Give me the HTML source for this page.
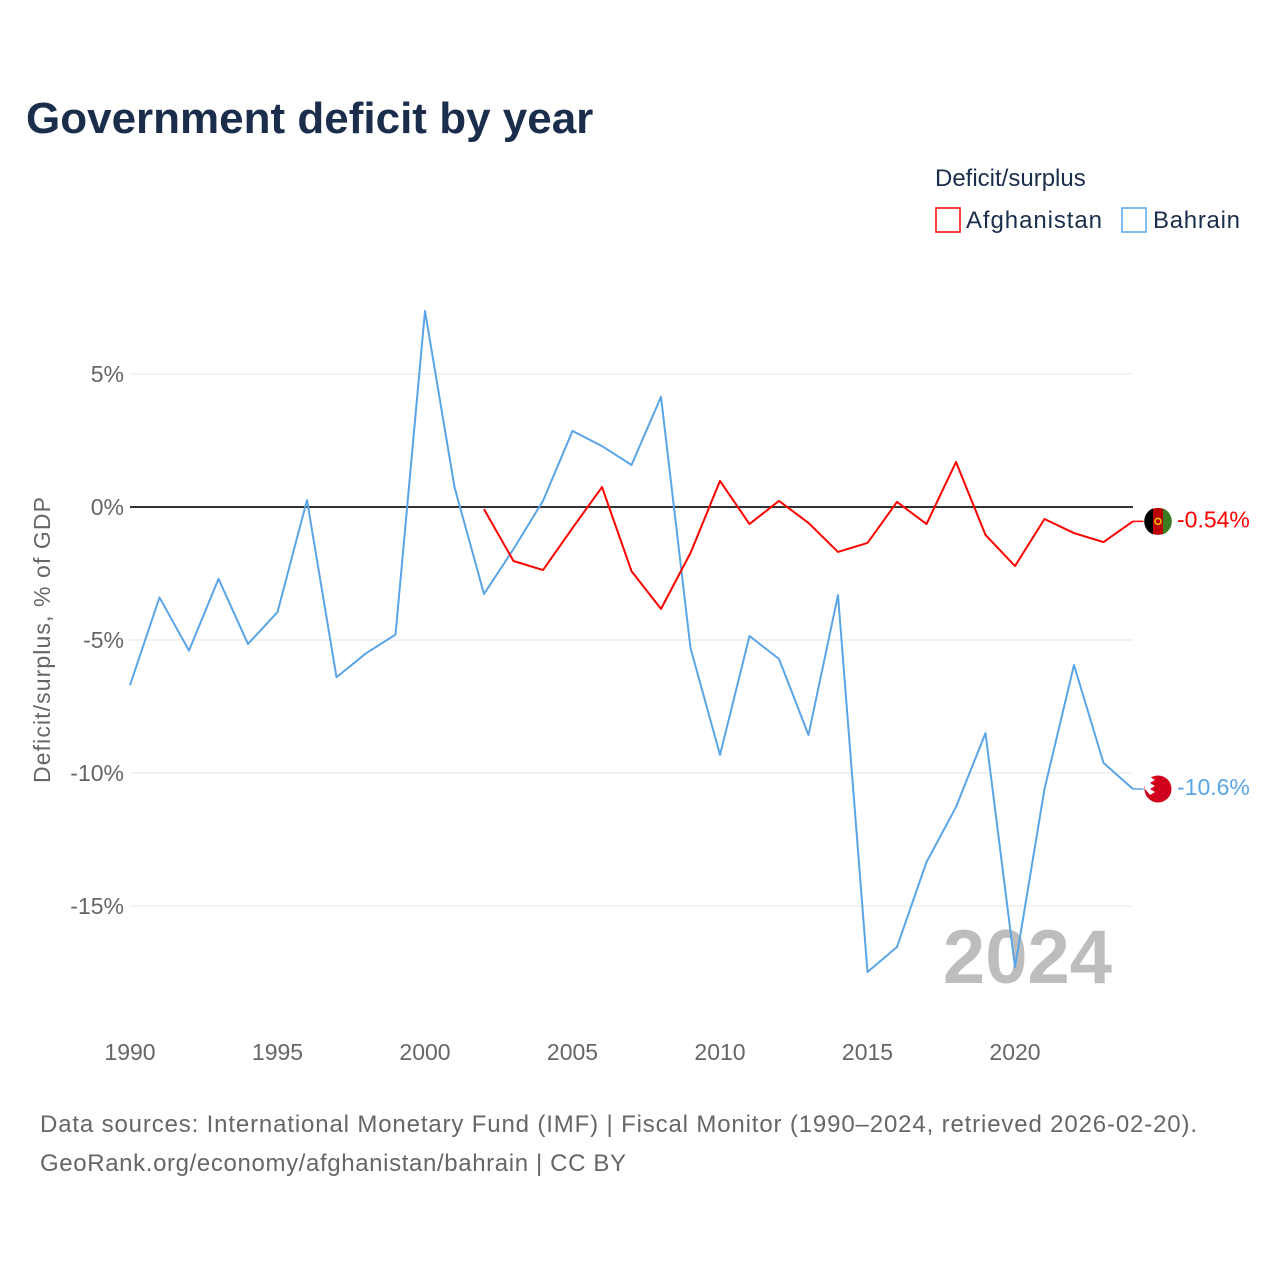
<!DOCTYPE html>
<html><head><meta charset="utf-8"><style>
body{margin:0;background:#fff;font-family:"Liberation Sans",sans-serif;}
svg text{font-family:"Liberation Sans",sans-serif;}
</style></head><body>
<svg width="1280" height="1280" viewBox="0 0 1280 1280" xmlns="http://www.w3.org/2000/svg">
<text x="26" y="133" font-size="44" font-weight="bold" fill="#1a2e4c">Government deficit by year</text>
<text x="935" y="186" font-size="24" fill="#1a2e4c">Deficit/surplus</text>
<g><rect x="936" y="208" width="24" height="24" fill="none" stroke="#ff0000" stroke-width="1.5"/><text x="966" y="228" font-size="24" fill="#1a2e4c" textLength="136">Afghanistan</text></g>
<g><rect x="1122" y="208" width="24" height="24" fill="none" stroke="#5aa5e6" stroke-width="1.5"/><text x="1153" y="228" font-size="24" fill="#1a2e4c" textLength="87">Bahrain</text></g>
<g id="grid"></g>
<g id="yticks"></g>
<g id="xticks"></g>
<text transform="translate(50,640) rotate(-90)" text-anchor="middle" font-size="23" fill="#666" textLength="286">Deficit/surplus, % of GDP</text>
<text x="1112" y="983" text-anchor="end" font-size="76" font-weight="bold" fill="#bdbdbd">2024</text>
<g id="series"></g>
<text x="40" y="1132" font-size="24" fill="#666" textLength="1157">Data sources: International Monetary Fund (IMF) | Fiscal Monitor (1990–2024, retrieved 2026-02-20).</text>
<text x="40" y="1171" font-size="24" fill="#666" textLength="586">GeoRank.org/economy/afghanistan/bahrain | CC BY</text>
</svg>
<script>
const yTicks=[5,0,-5,-10,-15];
const xTicks=[1990,1995,2000,2005,2010,2015,2020];
const bahrainYears=[1990,1991,1992,1993,1994,1995,1996,1997,1998,1999,2000,2001,2002,2003,2004,2005,2006,2007,2008,2009,2010,2011,2012,2013,2014,2015,2016,2017,2018,2019,2020,2021,2022,2023,2024];
const bahrainValues=[-6.7,-3.4,-5.4,-2.7,-5.15,-3.95,0.26,-6.4,-5.5,-4.8,7.37,0.75,-3.27,-1.58,0.23,2.86,2.29,1.58,4.14,-5.3,-9.32,-4.85,-5.71,-8.57,-3.31,-17.48,-16.54,-13.35,-11.28,-8.5,-17.3,-10.6,-5.94,-9.62,-10.6];
const afgYears=[2002,2003,2004,2005,2006,2007,2008,2009,2010,2011,2012,2013,2014,2015,2016,2017,2018,2019,2020,2021,2022,2023,2024];
const afgValues=[-0.08,-2.03,-2.37,-0.79,0.75,-2.41,-3.83,-1.73,0.98,-0.64,0.23,-0.6,-1.69,-1.35,0.19,-0.64,1.69,-1.05,-2.22,-0.45,-0.98,-1.32,-0.54];
const NS='http://www.w3.org/2000/svg';
const xs=y=>130+(y-1990)*29.5;
const ys=v=>507-v*26.6;
function mk(tag,attrs,parent){const e=document.createElementNS(NS,tag);for(const k in attrs)e.setAttribute(k,attrs[k]);parent.appendChild(e);return e;}
const grid=document.getElementById('grid'),yt=document.getElementById('yticks'),xt=document.getElementById('xticks'),ser=document.getElementById('series');
yTicks.forEach(v=>{
 const l=mk('line',{x1:130,x2:1133,y1:ys(v),y2:ys(v),stroke:v===0?'#333':'#e6e6e6','stroke-width':v===0?2:1},grid);
 
 
 const t=mk('text',{x:124,y:ys(v)+8,'text-anchor':'end','font-size':23,fill:'#666'},yt);
 t.textContent=v+'%';
 
 
});
xTicks.forEach(y=>{
 const t=mk('text',{x:xs(y),y:1060,'text-anchor':'middle','font-size':23,fill:'#666'},xt);
 t.textContent=y;
 
 
});
function line(years,vals,color,name){
 const p=mk('polyline',{points:years.map((y,i)=>xs(y)+','+ys(vals[i])).join(' '),fill:'none',stroke:color,'stroke-width':2,'stroke-linejoin':'round'},ser);
 
 
 const ly=ys(vals[vals.length-1]), lx=xs(years[years.length-1]);
 mk('line',{x1:lx,x2:lx+12,y1:ly,y2:ly,stroke:color,'stroke-width':1.5},ser);
 const c=mk('circle',{cx:1158,cy:ly,r:14,fill:name==='afghanistan'?'#bb0000':'#d0021b',stroke:'#fff','stroke-width':1},ser);
 
 
 if(name==='afghanistan'){mk('path',{d:`M1153,${ly-13} A14,14 0 0 0 1153,${ly+13} Z`,fill:'#000'},ser);mk('path',{d:`M1163,${ly-13} A14,14 0 0 1 1163,${ly+13} Z`,fill:'#3a7d22'},ser);mk('circle',{cx:1158,cy:ly,r:3,fill:'none',stroke:'#f5c400','stroke-width':1.5},ser);}
 else{mk('path',{d:`M1150,${ly-12} l5,3 -5,3 5,3 -5,3 5,3 -5,3 -5,-6 0,-12 Z`,fill:'#fff'},ser);}
 const t=mk('text',{x:1177,y:ly+6,'font-size':23,fill:color},ser);
 t.textContent=(Math.abs(vals[vals.length-1])>=10?vals[vals.length-1].toFixed(1):vals[vals.length-1].toFixed(2))+'%';
 
 
}
line(bahrainYears,bahrainValues,'#5aa5e6','bahrain');
line(afgYears,afgValues,'#ff0000','afghanistan');
</script>
</body></html>
